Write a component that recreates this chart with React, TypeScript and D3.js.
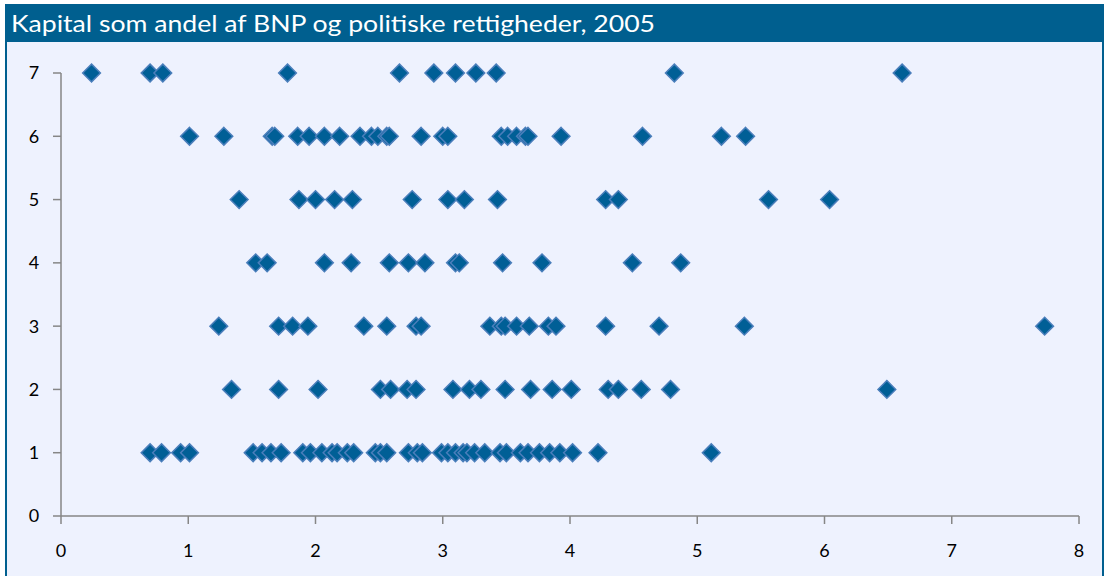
import React, { useEffect, useRef } from 'react';
import * as d3 from 'd3';

// politiske rettigheder (y) -> kapital som andel af BNP (x)
const row7 = [0.24, 0.70, 0.80, 1.78, 2.66, 2.93, 3.10, 3.26, 3.42, 4.82, 6.61];
const row6 = [1.01, 1.28, 1.66, 1.68, 1.86, 1.95, 2.07, 2.19, 2.35, 2.44, 2.49, 2.56, 2.58, 2.83, 3.00, 3.04, 3.46, 3.51, 3.58, 3.65, 3.67, 3.93, 4.57, 5.19, 5.38];
const row5 = [1.40, 1.87, 2.00, 2.15, 2.29, 2.76, 3.04, 3.17, 3.43, 4.28, 4.38, 5.56, 6.04];
const row4 = [1.53, 1.62, 2.07, 2.28, 2.58, 2.73, 2.86, 3.10, 3.13, 3.47, 3.78, 4.49, 4.87];
const row3 = [1.24, 1.71, 1.82, 1.94, 2.38, 2.56, 2.79, 2.83, 3.37, 3.46, 3.49, 3.58, 3.68, 3.83, 3.89, 4.28, 4.70, 5.37, 7.73];
const row2 = [1.34, 1.71, 2.02, 2.51, 2.59, 2.72, 2.79, 3.08, 3.21, 3.30, 3.49, 3.69, 3.86, 4.01, 4.30, 4.38, 4.56, 4.79, 6.49];
const row1 = [0.70, 0.79, 0.94, 1.01, 1.51, 1.58, 1.65, 1.73, 1.90, 1.96, 2.05, 2.13, 2.17, 2.25, 2.30, 2.47, 2.51, 2.56, 2.73, 2.80, 2.84, 2.99, 3.04, 3.10, 3.16, 3.19, 3.25, 3.33, 3.45, 3.50, 3.61, 3.67, 3.76, 3.84, 3.92, 4.02, 4.22, 5.11];

const rows: [number, number[]][] = [[7, row7], [6, row6], [5, row5], [4, row4], [3, row3], [2, row2], [1, row1]];

const xTicks = [0, 1, 2, 3, 4, 5, 6, 7, 8];
const yTicks = [0, 1, 2, 3, 4, 5, 6, 7];
const title = 'Kapital som andel af BNP og politiske rettigheder, 2005';

const W = 1109;
const H = 576;

const App: React.FC = () => {
  const svgRef = useRef<SVGSVGElement | null>(null);

  useEffect(() => {
    const svgEl = svgRef.current;
    if (!svgEl) return;
    const svg = d3.select(svgEl);
    svg.selectAll('*').remove();

    const font = 'Lato, "Open Sans", sans-serif';
    const axisCol = '#868686';

    // panel + title bar
    svg.append('rect').attr('x', 6).attr('y', 5).attr('width', 1097).attr('height', 600)
      .attr('fill', '#eef2fe').attr('stroke', '#005f8f').attr('stroke-width', 2);
    svg.append('rect').attr('x', 5).attr('y', 4).attr('width', 1099).attr('height', 38).attr('fill', '#005f8f');
    svg.append('text').attr('x', 11).attr('y', 32)
      .attr('fill', '#fff').attr('font-family', font).attr('font-size', 24)
      .attr('textLength', 644).attr('lengthAdjust', 'spacingAndGlyphs')
      .text(title);

    const x = d3.scaleLinear().domain([0, 8]).range([61, 1079]);
    const y = d3.scaleLinear().domain([0, 7]).range([516, 73]);

    // axes
    const g = svg.append('g');
    g.append('line').attr('x1', x(0)).attr('x2', x(0)).attr('y1', y(7)).attr('y2', y(0))
      .attr('stroke', axisCol).attr('stroke-width', 1.5);
    g.append('line').attr('x1', x(0)).attr('x2', x(8)).attr('y1', y(0)).attr('y2', y(0))
      .attr('stroke', axisCol).attr('stroke-width', 1.5);

    yTicks.forEach((t) => {
      g.append('line').attr('x1', x(0) - 8).attr('x2', x(0)).attr('y1', y(t)).attr('y2', y(t))
        .attr('stroke', axisCol).attr('stroke-width', 1.5);
      g.append('text').attr('x', 34).attr('y', y(t)).attr('dy', '0.36em')
        .attr('text-anchor', 'middle').attr('font-family', font).attr('font-size', 18)
        .attr('fill', '#000').text(t);
    });
    xTicks.forEach((t) => {
      g.append('line').attr('x1', x(t)).attr('x2', x(t)).attr('y1', y(0)).attr('y2', y(0) + 8)
        .attr('stroke', axisCol).attr('stroke-width', 1.5);
      g.append('text').attr('x', x(t)).attr('y', 557)
        .attr('text-anchor', 'middle').attr('font-family', font).attr('font-size', 18)
        .attr('fill', '#000').text(t);
    });

    // points
    const pts = rows.flatMap(([r, vals]) => vals.map((v) => ({ x: v, y: r })));
    const sym = d3.symbol().type(d3.symbolDiamond2).size(200);
    svg.append('g').selectAll('path').data(pts).enter().append('path')
      .attr('d', sym as any)
      .attr('transform', (d) => `translate(${x(d.x)},${y(d.y)})`)
      .attr('fill', '#005f96').attr('stroke', '#4a7ebb').attr('stroke-width', 1.5);
  }, []);

  return (
    <svg ref={svgRef} width={W} height={H}
      style={{ position: 'absolute', left: 0, top: 0, background: '#fff' }} />
  );
};

export default App;
